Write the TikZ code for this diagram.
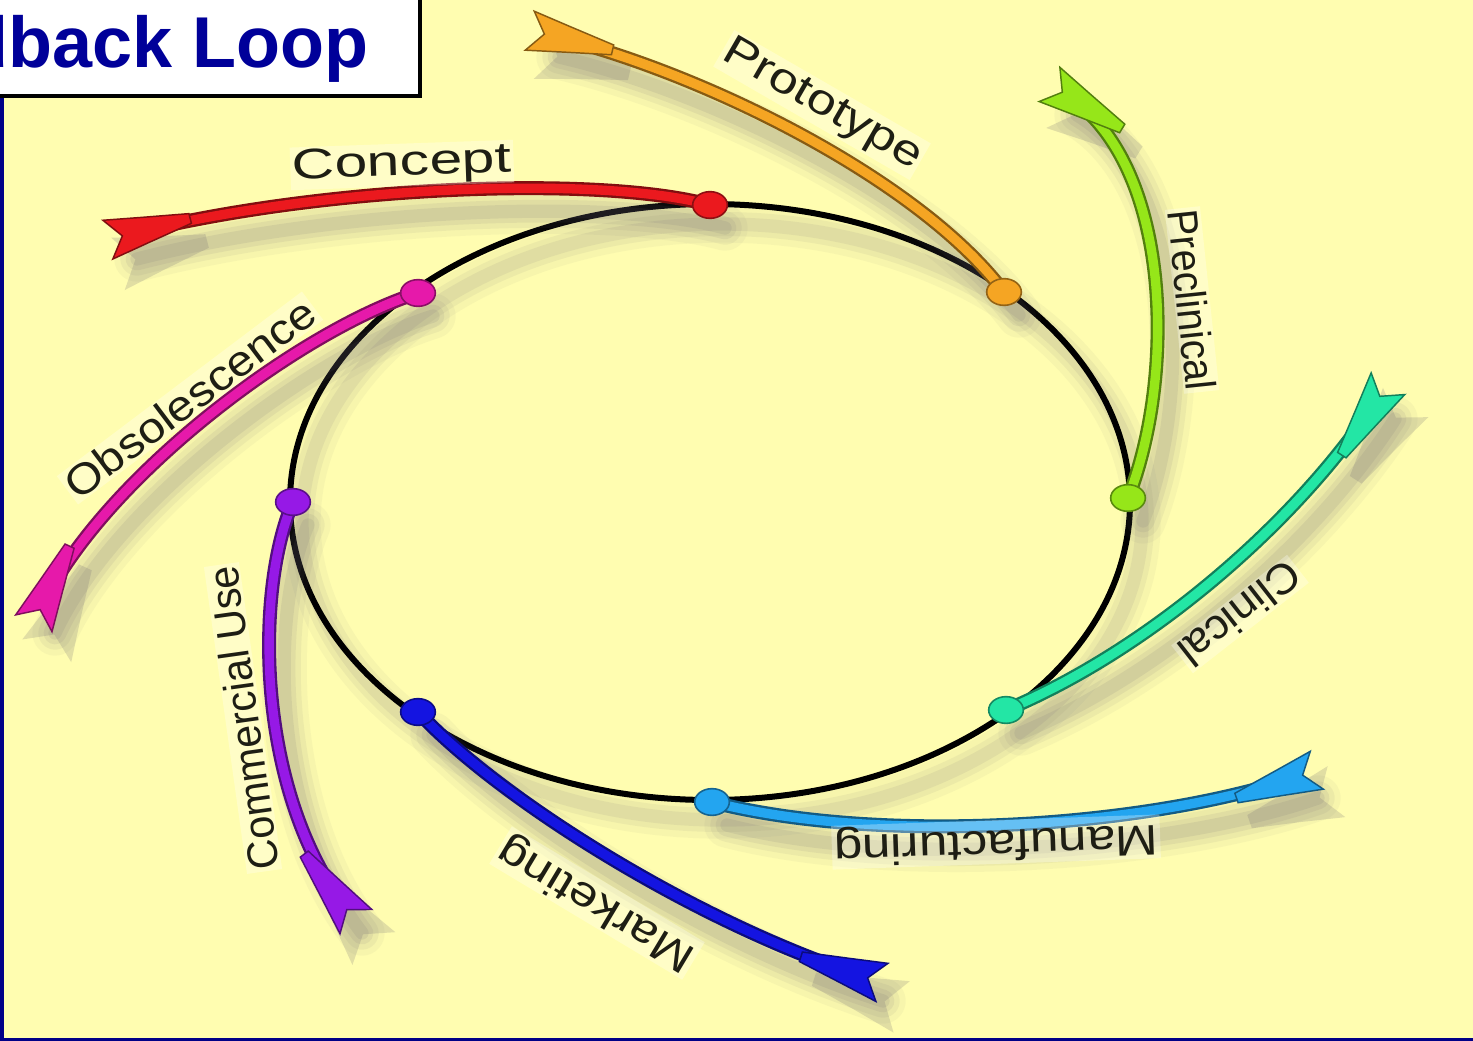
\documentclass[tikz,border=0pt]{standalone}
\usepackage{fontspec}
\setmainfont{Liberation Sans}
\usetikzlibrary{decorations.markings,shapes.geometric}

\definecolor{bg}{RGB}{255,253,176}
\definecolor{navy}{RGB}{0,0,135}
\definecolor{titleblue}{RGB}{0,0,153}
\definecolor{shadowgray}{RGB}{105,100,115}
\definecolor{labeltext}{RGB}{30,30,20}
\definecolor{redC}{RGB}{235,25,30}
\definecolor{orangeC}{RGB}{245,165,35}
\definecolor{greenC}{RGB}{150,230,25}
\definecolor{tealC}{RGB}{35,230,165}
\definecolor{skyC}{RGB}{35,165,240}
\definecolor{blueC}{RGB}{20,20,225}
\definecolor{purpleC}{RGB}{150,25,230}
\definecolor{magentaC}{RGB}{230,25,170}

\tikzset{
  % feathered tail at the free end of each stage arrow
  fletch/.style={decoration={markings, mark=at position -0.3pt with {
      \filldraw[fill=#1, draw=#1!55!black, line width=1.1pt, line join=miter]
        (-70,5) -- (-24,13) -- (15,20) -- (0,0) -- (15,-20) -- (-24,-13) -- (-70,-5) -- cycle;}},
    postaction={decorate}},
  shadowfletch/.style={decoration={markings, mark=at position -0.3pt with {
      \fill[shadowgray, fill opacity=0.2]
        (-72,7) -- (-24,17) -- (20,27) -- (2,0) -- (20,-27) -- (-24,-17) -- (-72,-7) -- cycle;}},
    postaction={decorate}},
  shaftedge/.style={line width=10.5pt, draw=#1!55!black},
  shaftcore/.style={line width=7pt, draw=#1},
  stagedot/.style={ellipse, minimum width=26pt, minimum height=20pt, inner sep=0pt,
    fill=#1, draw=#1!60!black, line width=1.2pt},
  stagelabel/.style={font=\fontsize{32}{38}\selectfont, text=labeltext,
    fill=white, fill opacity=0.3, text opacity=1, inner sep=1.5pt},
}

% one stage: colour, start, first control, second control, end
\newcommand{\stagearrow}[5]{%
  \begin{scope}[transform canvas={shift={(15,23)}}]
    \foreach \w/\o in {34pt/0.05,25pt/0.07,17pt/0.09,10pt/0.11}
      \draw[shadowgray, draw opacity=\o, line width=\w, line cap=round]
        (#2) .. controls (#3) and (#4) .. (#5);
    \path[shadowfletch] (#2) .. controls (#3) and (#4) .. (#5);
  \end{scope}
  \draw[shaftedge=#1] (#2) .. controls (#3) and (#4) .. (#5);
  \draw[shaftcore=#1, fletch=#1] (#2) .. controls (#3) and (#4) .. (#5);
}

\begin{document}
\begin{tikzpicture}[x=0.75pt,y=-0.75pt]
  \useasboundingbox (0,0) rectangle (1473,1041);
  \clip (0,0) rectangle (1473,1041);
  \fill[bg] (0,0) rectangle (1473,1041);

  % stage points on the loop
  \coordinate (pConcept) at (710,205);
  \coordinate (pPrototype) at (1004,292);
  \coordinate (pPreclinical) at (1128,498);
  \coordinate (pClinical) at (1006,710);
  \coordinate (pManufacturing) at (712,802);
  \coordinate (pMarketing) at (418,712);
  \coordinate (pCommercial) at (293,502);
  \coordinate (pObsolescence) at (418,293);

  % free ends of the stage arrows
  \coordinate (eConcept) at (122,236);
  \coordinate (ePrototype) at (544,34);
  \coordinate (ePreclinical) at (1062,92);
  \coordinate (eClinical) at (1380,396);
  \coordinate (eManufacturing) at (1303,775);
  \coordinate (eMarketing) at (868,978);
  \coordinate (eCommercial) at (347,910);
  \coordinate (eObsolescence) at (40,610);

  % the loop and its shadow
  \begin{scope}[transform canvas={shift={(12,20)}}]
    \foreach \w/\o in {28pt/0.05,18pt/0.07,10pt/0.09}
      \draw[shadowgray, draw opacity=\o, line width=\w] (710,502) ellipse [x radius=420, y radius=298];
  \end{scope}
  \draw[black, line width=4.5pt] (710,502) ellipse [x radius=420, y radius=298];

  % stage arrows
  \stagearrow{redC}{pConcept}{600,175}{320,185}{eConcept}
  \stagearrow{orangeC}{pPrototype}{920,180}{700,70}{ePrototype}
  \stagearrow{greenC}{pPreclinical}{1175,380}{1175,160}{ePreclinical}
  \stagearrow{tealC}{pClinical}{1150,650}{1300,520}{eClinical}
  \stagearrow{skyC}{pManufacturing}{880,845}{1150,828}{eManufacturing}
  \stagearrow{blueC}{pMarketing}{500,800}{700,925}{eMarketing}
  \stagearrow{purpleC}{pCommercial}{255,590}{255,790}{eCommercial}
  \stagearrow{magentaC}{pObsolescence}{300,330}{100,480}{eObsolescence}

  % stage dots
  \node[stagedot=redC] (dConcept) at (pConcept) {};
  \node[stagedot=orangeC] (dPrototype) at (pPrototype) {};
  \node[stagedot=greenC] (dPreclinical) at (pPreclinical) {};
  \node[stagedot=tealC] (dClinical) at (pClinical) {};
  \node[stagedot=skyC] (dManufacturing) at (pManufacturing) {};
  \node[stagedot=blueC] (dMarketing) at (pMarketing) {};
  \node[stagedot=purpleC] (dCommercial) at (pCommercial) {};
  \node[stagedot=magentaC] (dObsolescence) at (pObsolescence) {};

  % stage names
  \node[stagelabel, rotate=2] (lConcept) at (402,165) {\scalebox{1.38}[1]{Concept}};
  \node[stagelabel, rotate=-30] (lPrototype) at (822,105) {\scalebox{1.22}[1]{Prototype}};
  \node[stagelabel, rotate=-84] (lPreclinical) at (1192,300) {\scalebox{0.93}[1]{Preclinical}};
  \node[stagelabel, rotate=218] (lClinical) at (1240,614) {\scalebox{1.04}[1]{Clinical}};
  \node[stagelabel, rotate=182] (lManufacturing) at (996,842) {\scalebox{1.2}[1]{Manufacturing}};
  \node[stagelabel, rotate=149] (lMarketing) at (597,903) {\scalebox{1.18}[1]{Marketing}};
  \node[stagelabel, rotate=98] (lCommercial) at (243,718) {\scalebox{0.97}[1]{Commercial Use}};
  \node[stagelabel, rotate=37] (lObsolescence) at (190,398) {\scalebox{1.12}[1]{Obsolescence}};

  % frame and title
  \fill[navy] (0,96) rectangle (3.5,1041);
  \fill[navy] (0,1038) rectangle (1473,1041);
  \draw[fill=white, line width=2.4pt] (-20,-20) rectangle (420,96);
  \node[anchor=base west, inner sep=0pt, text=titleblue,
        font=\bfseries\fontsize{54}{60}\selectfont] (title) at (-160,68) {Feedback Loop};
\end{tikzpicture}
\end{document}
